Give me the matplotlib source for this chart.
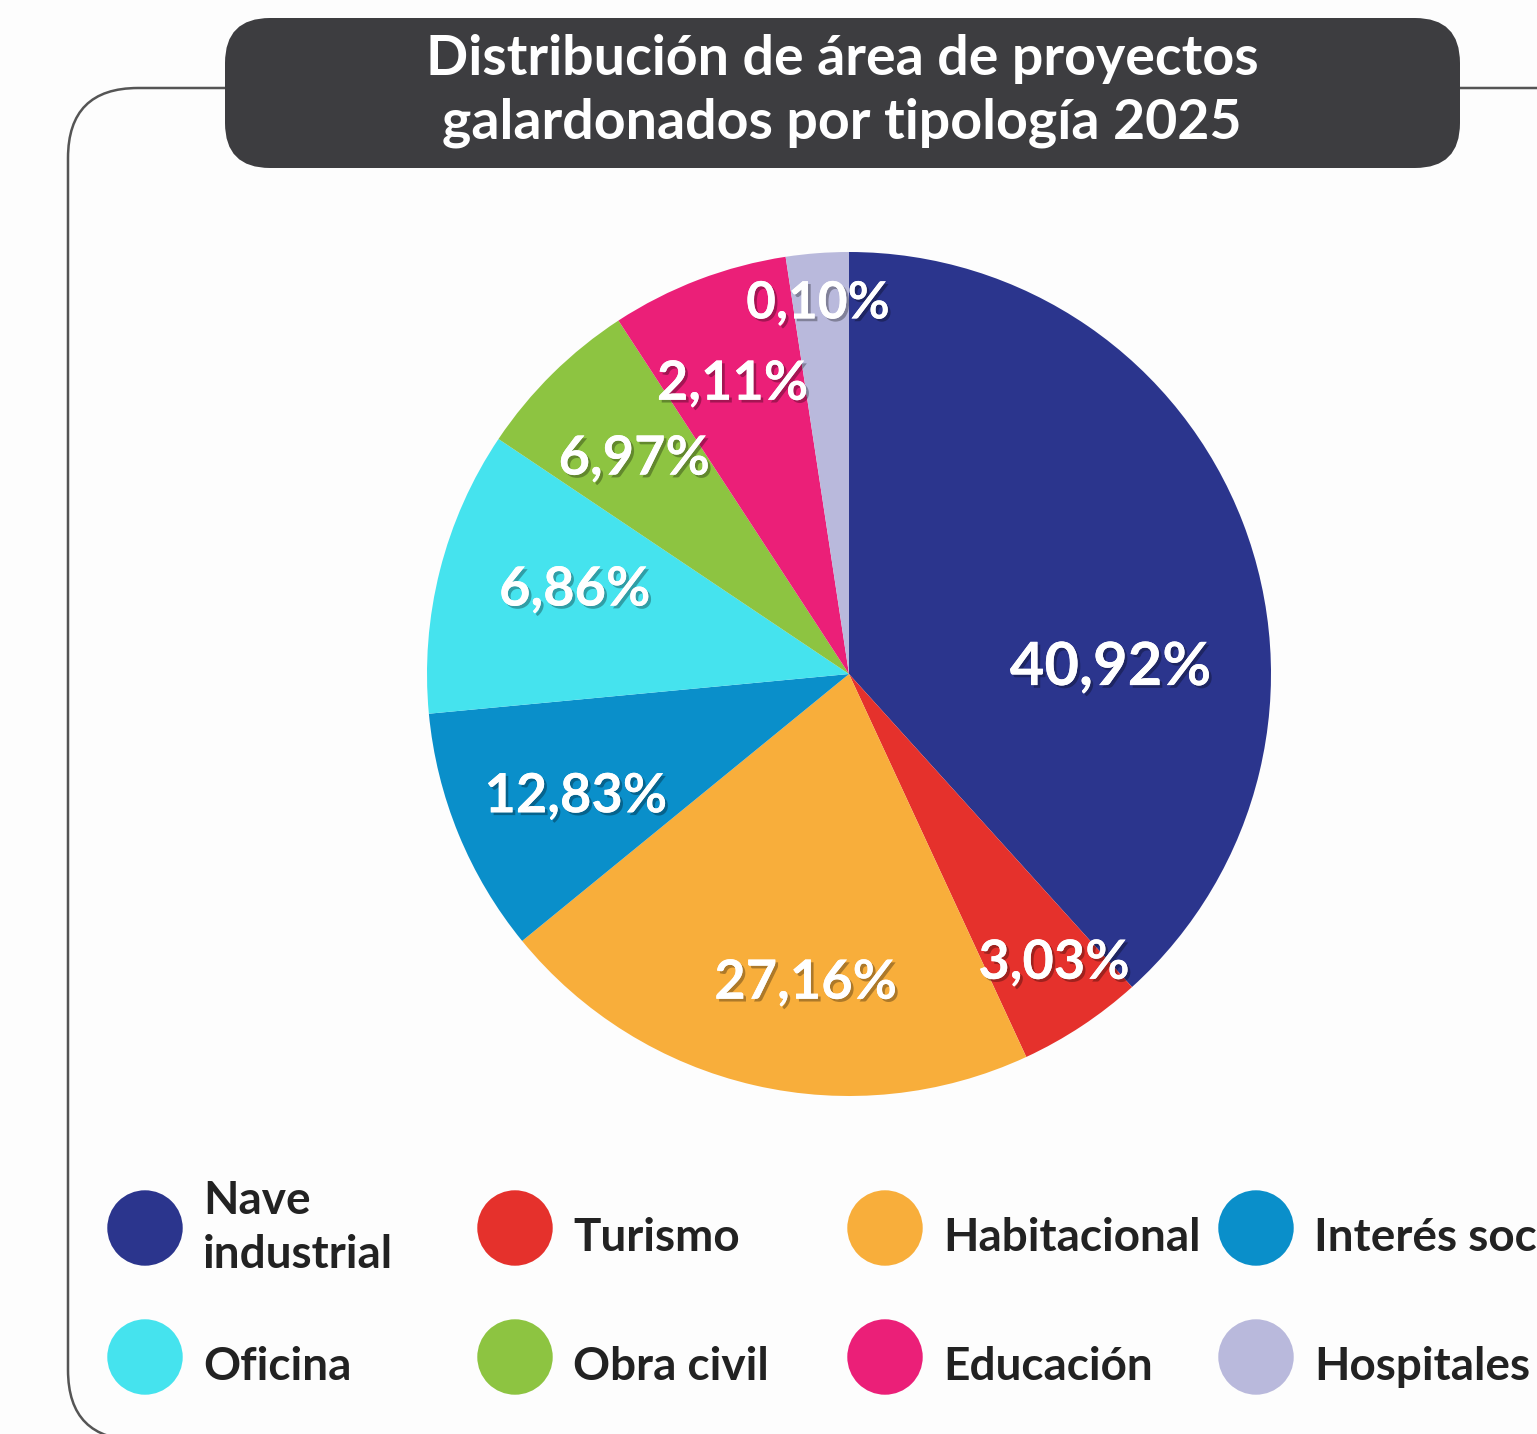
import matplotlib
matplotlib.use("Agg")
import matplotlib.pyplot as plt
import matplotlib.patheffects as pe
from matplotlib.patches import FancyBboxPatch
import numpy as np

# categories in the order the wedges run (clockwise from 12 o'clock)
categories = ["Nave\nindustrial", "Turismo", "Habitacional", "Interés social",
              "Oficina", "Obra civil", "Educación", "Hospitales"]
# printed percentages
pct_labels = ["40,92%", "3,03%", "27,16%", "12,83%", "6,86%", "6,97%", "2,11%", "0,10%"]
# wedge sizes as they are drawn in the picture (%)
wedge_share = [38.3, 4.8, 21.0, 9.4, 10.9, 6.4, 6.8, 2.4]
colors = ["#2b358d", "#e5312c", "#f8ae3b", "#0a8fca",
          "#45e3ee", "#8dc441", "#eb1f78", "#b9b9dc"]

title = "Distribución de área de proyectos\ngalardonados por tipología 2025"

W, H = 1537, 1434
BG = "#fdfdfd"
FONT = "Lato"

fig = plt.figure(figsize=(W / 100, H / 100), dpi=100, facecolor=BG)
ax = fig.add_axes([0, 0, 1, 1])

# outer rounded frame (runs off the right edge)
frame = FancyBboxPatch((68, H - 1440), 1700, 1440 - 88,
                       boxstyle="round,pad=0,rounding_size=70",
                       fc="none", ec="#555555", lw=1.8, zorder=1)
ax.add_patch(frame)

# title box
tbox = FancyBboxPatch((225, H - 168), 1235, 150,
                      boxstyle="round,pad=0,rounding_size=45",
                      fc="#3d3d40", ec="none", zorder=2)
ax.add_patch(tbox)
ax.text(842, H - 91, title, ha="center", va="center", color="white",
        fontsize=40, fontweight="bold", family=FONT, linespacing=1.33, zorder=3)

# pie
cx, cy, R = 849, H - 674, 422
wedges, _ = ax.pie(wedge_share, colors=colors, startangle=90, counterclock=False,
                   center=(cx, cy), radius=R, frame=True,
                   wedgeprops=dict(linewidth=0, zorder=2))
ax.set_xlim(0, W)
ax.set_ylim(0, H)
ax.set_aspect("equal")
ax.axis("off")

# label placement: angle (deg, math convention) and radius fraction
lab_ang = [1.3, -54.7, -98.0, -155.8, 163.0, 135.0, 111.9, 94.8]
lab_r = [0.62, 0.84, 0.74, 0.71, 0.68, 0.72, 0.74, 0.88]
lab_size = [43, 39, 39, 39, 39, 39, 39, 37]
shadow = [pe.withSimplePatchShadow(offset=(2, -2), shadow_rgbFace="black", alpha=0.3),
          pe.Normal()]
for txt, a, r, fs in zip(pct_labels, lab_ang, lab_r, lab_size):
    t = np.deg2rad(a)
    ax.text(cx + r * R * np.cos(t), cy + r * R * np.sin(t), txt,
            ha="center", va="center", color="white", fontsize=fs,
            fontweight="bold", family=FONT, path_effects=shadow, zorder=4)

# legend, 2 rows x 4 columns
col_x = [145, 515, 885, 1256]
row_y = [H - 1228, H - 1357]
for i, (name, c) in enumerate(zip(categories, colors)):
    x = col_x[i % 4]
    y = row_y[i // 4]
    dy = 0 if "\n" in name else -10  # two-line label sits centred on the dot
    ax.scatter([x], [y], s=2950, color=c, edgecolor="none", zorder=3)
    ax.text(x + 58, y + dy, name, ha="left", va="center", color="#222222",
            fontsize=33, fontweight="bold", family=FONT, linespacing=1.35,
            zorder=3)

fig.savefig("out.png", dpi=100, facecolor=BG)
